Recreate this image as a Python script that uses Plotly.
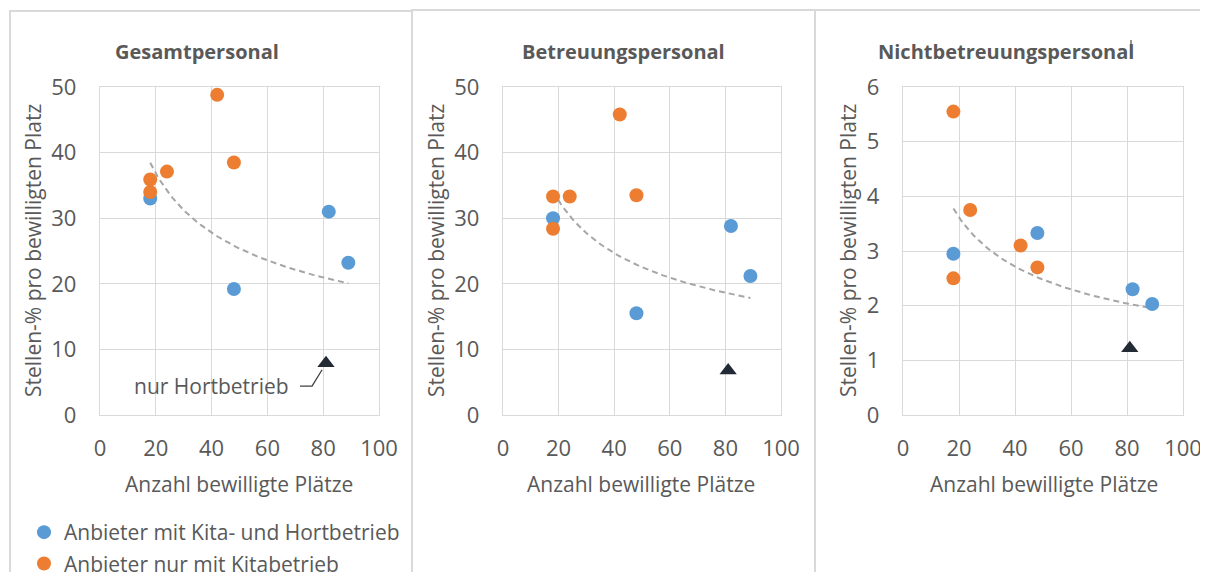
import numpy as np
import plotly.graph_objects as go

# the page body adds an 8px offset, so the figure is 8px smaller on each side
OFF = 8
W, H = 1208 - OFF, 572 - OFF

# ---------------- data ----------------
panel_titles = ["Gesamtpersonal", "Betreuungspersonal", "Nichtbetreuungspersonal"]
series_names = ["Anbieter mit Kita- und Hortbetrieb", "Anbieter nur mit Kitabetrieb"]
hort_label = "nur Hortbetrieb"
x_title = "Anzahl bewilligte Plätze"
y_title = "Stellen-% pro bewilligten Platz"

# number of approved places
x_kita_hort = [18, 48, 82, 89]
x_kita = [18, 18, 24, 42, 48]
x_hort = [81]

# Gesamtpersonal
ges_kita_hort = [33.0, 19.2, 31.0, 23.2]
ges_kita = [35.9, 34.0, 37.1, 48.8, 38.5]
ges_hort = [7.9]

# Betreuungspersonal
bet_kita_hort = [30.0, 15.5, 28.8, 21.2]
bet_kita = [33.3, 28.4, 33.3, 45.8, 33.5]
bet_hort = [6.8]

# Nichtbetreuungspersonal
nb_kita_hort = [2.95, 3.33, 2.30, 2.03]
nb_kita = [2.50, 5.55, 3.75, 3.10, 2.70]
nb_hort = [1.22]

x_ticks = [0, 20, 40, 60, 80, 100]
y_ticks_pct = [0, 10, 20, 30, 40, 50]
y_ticks_nb = [0, 1, 2, 3, 4, 5, 6]

# ---------------- style ----------------
FONT = "Open Sans"
TXT = "#595959"
GRID = "#D9D9D9"
BLUE = "#5B9BD5"
ORANGE = "#ED7D31"
DARK = "#222A35"
TREND = "#A6A6A6"


def px(xp):
    return (xp - OFF) / W


def py(yp):
    return 1 - (yp - OFF) / H


panels = [
    dict(kh=ges_kita_hort, k=ges_kita, h=ges_hort, yt=y_ticks_pct,
         xd=(100, 379), tx=197, ytx=33, xtx=239),
    dict(kh=bet_kita_hort, k=bet_kita, h=bet_hort, yt=y_ticks_pct,
         xd=(503, 781), tx=623, ytx=436, xtx=641),
    dict(kh=nb_kita_hort, k=nb_kita, h=nb_hort, yt=y_ticks_nb,
         xd=(903, 1183), tx=1006, ytx=848, xtx=1044),
]

fig = go.Figure()
annotations = []
shapes = []

for i, p in enumerate(panels):
    n = "" if i == 0 else str(i + 1)
    xa, ya = "x" + n, "y" + n
    # power trendline (Excel-style) over all points
    xs = np.array(x_kita_hort + x_kita + x_hort, dtype=float)
    ys = np.array(p["kh"] + p["k"] + p["h"], dtype=float)
    b, lna = np.polyfit(np.log(xs), np.log(ys), 1)
    xt = np.linspace(xs.min(), xs.max(), 80)
    yt = np.exp(lna) * xt ** b
    fig.add_trace(go.Scatter(x=xt, y=yt, mode="lines", xaxis=xa, yaxis=ya,
                             line=dict(color=TREND, width=2, dash="6px,4px"),
                             showlegend=False, hoverinfo="skip"))
    fig.add_trace(go.Scatter(x=x_kita_hort, y=p["kh"], mode="markers", xaxis=xa, yaxis=ya,
                             name=series_names[0], legendgroup="g1", showlegend=(i == 0),
                             marker=dict(color=BLUE, size=14)))
    fig.add_trace(go.Scatter(x=x_kita, y=p["k"], mode="markers", xaxis=xa, yaxis=ya,
                             name=series_names[1], legendgroup="g2", showlegend=(i == 0),
                             marker=dict(color=ORANGE, size=14)))
    fig.add_trace(go.Scatter(x=x_hort, y=p["h"], mode="markers", xaxis=xa, yaxis=ya,
                             name=hort_label, showlegend=False,
                             marker=dict(color=DARK, size=15, symbol="triangle-up")))

    ax_common = dict(showgrid=True, gridcolor=GRID, gridwidth=1.3, zeroline=False,
                     showline=True, linecolor=GRID, linewidth=1.3, mirror=True,
                     tickfont=dict(family=FONT, size=22, color=TXT), ticks="")
    fig.layout["xaxis" + n] = dict(ax_common, domain=[px(p["xd"][0]), px(p["xd"][1])],
                                   range=[0, 100], tickvals=x_ticks, anchor=ya,
                                   ticklabelstandoff=13)
    fig.layout["yaxis" + n] = dict(ax_common, domain=[py(415), py(87)],
                                   range=[p["yt"][0], p["yt"][-1]], tickvals=p["yt"],
                                   anchor=xa, ticklabelstandoff=18)

    annotations.append(dict(text="<b>" + panel_titles[i] + "</b>", x=px(p["tx"]), y=py(51),
                            xref="paper", yref="paper", showarrow=False,
                            xanchor="center", yanchor="middle",
                            font=dict(family=FONT, size=20, color=TXT)))
    annotations.append(dict(text=y_title, x=px(p["ytx"]), y=py(251), textangle=-90,
                            xref="paper", yref="paper", showarrow=False,
                            xanchor="center", yanchor="middle",
                            font=dict(family=FONT, size=21, color=TXT)))
    annotations.append(dict(text=x_title, x=px(p["xtx"]), y=py(484),
                            xref="paper", yref="paper", showarrow=False,
                            xanchor="center", yanchor="middle",
                            font=dict(family=FONT, size=21, color=TXT)))

# label for the Hort-only provider (panel 1)
annotations.append(dict(text=hort_label, x=39.8, y=4.4, xref="x", yref="y",
                        showarrow=False, xanchor="center", yanchor="middle",
                        font=dict(family=FONT, size=21, color=TXT)))
shapes.append(dict(type="path", xref="x", yref="y",
                   path="M 71.7 4.4 L 76 4.4 L 79.6 6.9",
                   line=dict(color="#404040", width=1.3)))

# panel frames
for x0, x1, y0 in [(10, 412, 11), (412, 815, 10), (815, 1215, 10)]:
    shapes.append(dict(type="rect", xref="paper", yref="paper",
                       x0=px(x0), x1=px(x1), y0=py(y0), y1=py(600),
                       line=dict(color=GRID, width=2), layer="below"))
# small cursor mark in the third panel
shapes.append(dict(type="line", xref="paper", yref="paper",
                   x0=px(1131), x1=px(1131), y0=py(40), y1=py(57),
                   line=dict(color="#707070", width=1.5)))

fig.update_layout(
    width=W, height=H,
    margin=dict(l=0, r=0, t=0, b=0, autoexpand=False),
    paper_bgcolor="white", plot_bgcolor="white",
    annotations=annotations, shapes=shapes,
    showlegend=True,
    legend=dict(x=px(24), y=py(512), xanchor="left", yanchor="top",
                font=dict(family=FONT, size=21, color=TXT),
                bgcolor="rgba(0,0,0,0)", tracegroupgap=1, itemwidth=30),
)

fig.write_html("out.html")
